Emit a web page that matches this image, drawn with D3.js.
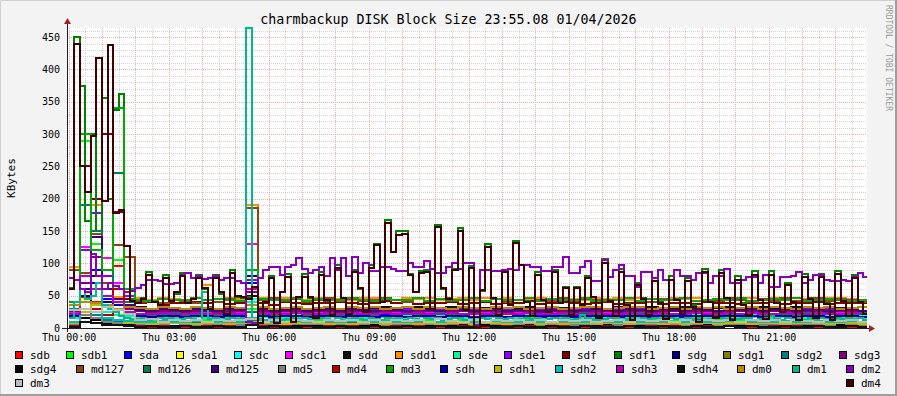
<!DOCTYPE html>
<html>
<head>
<meta charset="utf-8">
<title>charmbackup DISK Block Size</title>
<script src="https://cdn.jsdelivr.net/npm/d3@7"></script>
<style>
	body{ margin:0; background:#f3f3f3; }
	svg{ display:block; }
</style>
</head>
<body>
<div id="graph"></div>
<script>
/****************************
 * charmbackup DISK Block Size (rrdtool style graph)
 * Requirements: D3 v7
 */

// Legend order = draw order
var seriesNames = ["sdb","sdb1","sda","sda1","sdc","sdc1","sdd","sdd1","sde","sde1","sdf","sdf1","sdg","sdg1","sdg2","sdg3",
	"sdg4","md127","md126","md125","md5","md4","md3","sdh","sdh1","sdh2","sdh3","sdh4","dm0","dm1","dm2",
	"dm3","dm4"];
var seriesColors = ["#ff0000","#00ff00","#0000ff","#ffff00","#00ffff","#ff00ff","#111111","#ff8c00","#00fa9a","#8a00ff","#800000","#008000","#000080","#808000","#008080","#800080",
	"#000000","#8b4513","#008050","#400080","#808080","#bb0000","#00aa00","#0000aa","#bbbb00","#00bbbb","#bb00bb","#111111","#bb8800","#00bb88","#8800bb",
	"#bbbbbb","#400000"];

var yTicks = [0, 50, 100, 150, 200, 250, 300, 350, 400, 450];
var xTickHours = [0, 3, 6, 9, 12, 15, 18, 21];
var xTickLabels = ["Thu 00:00","Thu 03:00","Thu 06:00","Thu 09:00","Thu 12:00","Thu 15:00","Thu 18:00","Thu 21:00"];

// KBytes, each array covers the whole day (20 min steps, 10 min for the busy ones)
var sdb = [10,48,40,35,96,18,6,4,3,3,2,3, 2,3,2,2,6,3,2,3,2,2,3,2, 2,3,2,2,3,2,2,2,3,2,2,3,
	2,2,3,2,2,3,2,2,2,3,2,2, 3,2,2,2,3,2,2,3,2,2,2,3, 2,2,3,2,2,2,3,2,2,3,2,2];
var sdb1 = [20,290,130,60,105,40,14,12,10,12,11,10, 12,10,11,12,30,12,10,11,12,10,12,11, 10,12,11,10,13,12,10,11,12,10,11,12,
	11,10,12,11,10,12,11,10,12,11,10,12, 11,12,10,11,12,10,11,12,10,11,12,10, 12,11,10,12,11,10,12,11,10,12,11,10];
var sda = [18,70,90,45,40,25,20,18,19,17,18,20, 18,19,17,18,60,20,18,17,19,18,17,19, 18,17,19,18,20,17,18,19,17,18,19,18,
	17,19,18,17,18,20,18,17,19,18,17,18, 19,18,17,18,19,17,18,19,18,17,18,19, 18,17,19,18,17,18,19,17,18,19,18,17];
var sda1 = [5,45,30,15,40,8,4,3,4,3,3,4, 3,4,3,3,5,3,4,3,3,4,3,3, 4,3,3,4,3,3,4,3,3,4,3,3,
	3,4,3,3,4,3,3,4,3,3,4,3, 3,3,4,3,3,4,3,3,4,3,3,4, 3,4,3,3,4,3,3,4,3,3,4,3];
var sdc = [15,50,70,40,35,25,20,22,21,20,22,21, 20,22,21,20,45,22,21,20,22,21,20,22, 21,22,20,21,23,22,20,21,22,20,21,22,
	21,20,22,21,20,22,21,20,22,21,20,22, 21,22,20,21,22,20,21,22,20,21,22,20, 22,21,20,22,21,20,22,21,20,22,21,20];
var sdc1 = [25,125,60,108,70,30,26,24,25,27,24,26, 25,24,26,25,130,27,24,25,26,24,25,27, 24,26,25,24,27,25,26,24,25,27,24,26,
	25,24,26,27,24,25,26,24,27,25,24,26, 25,27,24,26,25,24,26,27,24,25,26,24, 27,25,24,26,25,27,24,26,25,24,27,25];
var sdd = [30,60,80,50,45,35,32,30,33,31,30,32, 31,30,32,31,50,33,30,31,32,30,31,33, 30,32,31,30,33,31,30,32,31,30,32,31,
	30,31,32,30,31,33,30,32,31,30,32,31, 30,32,31,30,33,31,30,32,31,30,31,32, 31,30,32,31,30,32,31,30,33,31,30,32];
var sdd1 = [95,120,190,60,48,50,46,44,47,45,44,46, 66,45,47,45,190,46,44,47,45,44,46,47, 45,44,46,47,45,44,46,45,47,44,45,46,
	44,46,45,47,44,45,46,44,47,45,44,46, 45,47,44,46,45,44,47,45,46,44,45,47, 44,46,45,47,44,46,45,44,47,46,45,44];
var sde = [16,40,30,25,20,18,16,15,17,16,15,17, 16,15,17,16,40,17,15,16,17,15,16,17, 15,17,16,15,17,16,15,17,16,15,17,16,
	15,16,17,15,16,17,15,16,17,15,16,17, 16,15,17,16,15,17,16,15,17,16,15,17, 16,17,15,16,17,15,16,17,15,16,17,15];
var sde1 = [30,120,178,80,60,50,28,27,29,28,30,27, 28,30,29,27,75,28,29,30,27,28,30,29, 27,29,30,28,27,30,29,28,27,30,28,29,
	28,27,30,29,28,27,30,29,27,28,30,29, 30,28,27,29,30,28,27,30,29,28,27,30, 29,28,30,27,29,28,30,27,29,30,28,27];
var sdf = [40,250,200,300,180,45,38,40,36,39,38,40, 38,40,37,39,60,38,36,40,38,37,39,38, 40,38,37,39,41,38,40,37,39,38,40,37,
	38,40,37,39,38,41,37,38,40,39,37,38, 40,37,39,38,40,37,38,39,37,40,38,39, 37,39,38,40,37,39,38,40,37,38,39,38];
var sdf1 = [62,450,375,165,300,150,355,200,337,362,110,45,
	40,46,86,42,38,82,44,52,85,40,46,82,
	60,32,82,52,25,90,48,46,48,90,12,42,
	80,10,55,84,12,48,84,46,18,86,42,22,
	97,45,24,90,60,28,97,130,42,167,118,150,
	150,84,55,88,90,32,160,60,46,92,155,30,
	96,5,58,130,46,22,88,36,135,98,42,20,
	86,44,26,90,40,64,22,63,36,80,48,18,
	106,44,20,92,37,14,70,46,22,78,40,16,
	80,45,24,77,35,12,92,42,18,90,47,14,
	80,38,22,88,45,16,88,40,26,70,42,14,
	84,46,18,84,39,14,88,43,20,82,42,24];
var sdg = [22,40,60,35,30,24,22,21,23,22,21,23, 22,21,23,22,80,23,21,22,23,21,22,23, 21,23,22,21,23,22,21,23,22,21,23,22,
	21,22,23,21,22,23,21,22,23,21,22,23, 22,21,23,22,21,23,22,21,23,22,21,23, 22,23,21,22,23,21,22,23,21,22,23,21];
var sdg1 = [6,20,15,10,8,7,6,5,6,7,6,5, 6,7,5,6,8,6,7,5,6,7,6,5, 6,5,7,6,5,6,7,5,6,5,7,6,
	5,6,7,5,6,7,5,6,5,7,6,5, 6,7,5,6,7,5,6,5,7,6,5,6, 7,5,6,7,5,6,7,6,5,7,6,5];
var sdg2 = [8,25,20,12,10,9,8,9,8,7,8,9, 8,7,9,8,12,9,8,7,9,8,7,9, 8,9,7,8,9,8,7,9,8,7,9,8,
	7,8,9,7,8,9,7,8,9,7,8,9, 8,7,9,8,7,9,8,7,9,8,7,9, 8,9,7,8,9,7,8,9,7,8,9,7];
var sdg3 = [26,70,110,60,45,30,26,25,27,26,25,27, 26,25,27,26,55,27,25,26,27,25,26,27, 25,27,26,25,27,26,25,27,26,25,27,26,
	25,26,27,25,26,27,25,26,27,25,26,27, 26,25,27,26,25,27,26,25,27,26,25,27, 26,27,25,26,27,25,26,27,25,26,27,25];
var sdg4 = [4,15,12,8,6,5,4,5,4,3,4,5, 4,3,5,4,6,5,4,3,5,4,3,5, 4,5,3,4,5,4,3,5,4,3,5,4,
	3,4,5,3,4,5,3,4,5,3,4,5, 4,3,5,4,3,5,4,3,5,4,3,5, 4,5,3,4,5,3,4,5,3,4,5,3];
var md127 = [90,85,145,70,128,110,40,42,38,44,41,39, 43,40,45,41,185,44,46,42,45,40,44,47, 42,45,41,44,47,43,40,46,42,45,41,44,
	46,42,45,40,44,47,43,41,46,42,45,43, 41,44,46,42,40,45,43,47,41,44,42,46, 43,40,45,42,46,41,44,47,42,45,43,40];
var md126 = [30,190,150,60,240,40,22,20,21,23,20,22, 21,20,22,21,25,22,20,21,23,20,22,21, 20,22,21,20,23,21,22,20,21,23,20,22,
	21,20,22,21,20,23,21,22,20,21,23,20, 22,21,20,23,21,20,22,21,23,20,21,22, 21,23,20,22,21,20,23,21,22,20,21,23];
var md125 = [28,60,140,60,45,35,28,27,29,28,27,29, 28,27,29,28,70,29,27,28,29,27,28,29, 27,29,28,27,29,28,27,29,28,27,29,28,
	27,28,29,27,28,29,27,28,29,27,28,29, 28,27,29,28,27,29,28,27,29,28,27,29, 28,29,27,28,29,27,28,29,27,28,29,27];
var md5 = [6,20,15,10,8,7,6,5,6,7,6,5, 5,6,7,5,8,6,5,7,6,5,6,7, 6,5,6,7,5,6,5,7,6,5,6,7,
	5,7,6,5,6,7,5,6,7,5,6,6, 7,5,6,6,5,7,6,5,6,7,5,6, 6,7,5,6,7,5,6,6,5,7,6,5];
var md4 = [3,40,30,20,60,10,3,2,3,2,3,2, 3,2,3,2,5,3,2,3,2,3,2,3, 2,3,2,3,2,3,2,3,2,3,2,3,
	2,3,2,3,2,3,2,2,3,2,3,2, 3,2,3,2,3,2,3,2,2,3,2,3, 2,3,2,3,2,3,2,3,2,2,3,2];
var md3 = [40,300,120,90,340,60,44,42,45,43,44,46, 43,45,44,42,90,45,43,44,46,42,45,44, 43,46,44,42,45,43,44,46,42,45,43,44,
	46,42,45,43,44,46,42,45,44,43,46,42, 44,43,46,42,45,44,43,46,42,44,45,43, 46,42,44,45,43,46,42,44,45,43,42,44];
var sdh = [18,50,70,40,35,22,18,17,19,18,17,19, 18,17,19,18,70,19,17,18,19,17,18,19, 17,19,18,17,19,18,17,19,18,17,19,18,
	17,18,19,17,18,19,17,18,19,17,18,19, 18,17,19,18,17,19,18,17,19,18,17,19, 18,19,17,18,19,17,18,19,17,18,19,17];
var sdh1 = [7,25,35,15,12,8,7,6,7,8,7,6, 7,8,6,7,9,7,8,6,7,8,7,6, 7,6,8,7,6,7,8,6,7,6,8,7,
	6,7,8,6,7,8,6,7,6,8,7,6, 7,8,6,7,8,6,7,6,8,7,6,7, 8,6,7,8,6,7,8,7,6,8,7,6];
var sdh2 = [10,30,25,15,12,11,10,9,11,10,9,11, 10,9,11,10,15,11,10,9,11,10,9,11, 10,11,9,10,11,10,9,11,10,9,11,10,
	9,10,11,9,10,11,9,10,11,9,10,11, 10,9,11,10,9,11,10,9,11,10,9,11, 10,11,9,10,11,9,10,11,9,10,11,9];
var sdh3 = [22,80,60,50,40,25,22,21,23,22,21,23, 22,21,23,22,60,23,21,22,23,21,22,23, 21,23,22,21,23,22,21,23,22,21,23,22,
	21,22,23,21,22,23,21,22,23,21,22,23, 22,21,23,22,21,23,22,21,23,22,21,23, 22,23,21,22,23,21,22,23,21,22,23,21];
var sdh4 = [2,10,8,5,4,3,2,3,2,2,3,2, 2,3,2,2,4,2,3,2,2,3,2,2, 3,2,2,3,2,2,3,2,2,3,2,2,
	2,3,2,2,3,2,2,3,2,2,3,2, 2,2,3,2,2,3,2,2,3,2,2,3, 2,3,2,2,3,2,2,3,2,2,3,2];
var dm0 = [35,40,38,36,30,33,31,30,32,31,30,32, 31,30,32,31,35,32,30,31,32,30,31,32, 30,32,31,33,30,31,32,30,33,31,30,32,
	31,30,32,31,33,30,31,32,30,31,33,32, 30,31,33,32,30,31,32,30,33,31,32,30, 31,33,30,32,31,30,33,31,32,30,31,33];
var dm1 = [16,40,60,45,50,70,35,30,25,18,15,14,
	14,15,13,14,16,14,15,13,14,15,14,13,
	55,14,15,13,14,16,14,15,464,15,14,13,
	14,15,13,14,16,14,15,13,14,15,14,13,
	15,13,14,16,14,12,15,14,13,16,14,15,
	13,15,14,12,16,14,15,13,14,16,15,13,
	14,2,15,14,13,16,14,15,13,14,16,14,
	15,13,14,16,14,15,13,14,20,15,14,13,
	14,16,15,13,14,15,13,16,14,15,14,13,
	15,14,13,16,14,15,13,14,16,15,14,13,
	14,16,15,13,14,15,18,14,13,15,14,16,
	13,15,14,16,14,13,15,14,16,14,15,13];
var dm2 = [77,75,60,55,115,80,60,70,65,60,55,58,
	62,66,74,74,72,68,68,70,82,85,78,80,
	76,78,80,75,78,77,72,70,10,8,77,90,
	95,94,82,95,98,108,92,85,90,94,80,108,
	90,108,80,110,85,100,88,88,94,94,92,88,
	88,100,94,94,103,92,85,85,94,100,92,100,
	100,5,90,90,88,88,90,92,90,97,97,94,
	94,88,88,94,94,110,85,85,94,103,72,72,
	105,79,90,97,81,81,64,87,87,77,90,74,
	74,90,81,81,74,85,85,69,80,80,92,69,
	69,74,79,79,69,82,64,64,79,79,81,87,
	69,74,82,82,74,72,72,74,72,79,85,79];
var dm3 = [28,30,25,32,28,22,12,14,10,13,11,12, 10,13,11,12,14,10,12,9,13,11,10,12, 11,13,10,12,9,13,11,12,10,14,11,10,
	12,10,13,11,12,9,13,10,12,11,13,10, 11,12,10,13,11,12,9,13,10,12,11,13, 10,12,11,13,10,12,11,9,13,11,12,10];
var dm4 = [60,440,250,210,297,418,196,438,178,182,127,42,
	38,45,82,40,35,78,42,55,80,38,45,78,
	62,30,78,55,22,85,50,48,45,64,8,40,
	77,8,56,79,10,48,79,48,15,82,43,20,
	93,47,22,87,62,25,93,128,40,163,118,144,
	145,82,56,85,87,30,156,62,45,90,150,28,
	93,2,59,126,47,20,87,35,131,97,40,18,
	82,43,25,87,38,62,20,62,35,77,48,15,
	100,42,18,87,35,12,66,45,20,72,38,14,
	74,44,22,72,33,10,87,40,16,85,46,12,
	74,36,20,82,44,14,82,38,24,66,40,12,
	79,45,16,79,37,12,83,42,18,77,40,22];

var seriesValues = [sdb, sdb1, sda, sda1, sdc, sdc1, sdd, sdd1, sde, sde1, sdf, sdf1, sdg, sdg1, sdg2, sdg3,
	sdg4, md127, md126, md125, md5, md4, md3, sdh, sdh1, sdh2, sdh3, sdh4, dm0, dm1, dm2,
	dm3, dm4];

var chart = {};

(function(){

	// Layout
	chart.width = 897;
	chart.height = 396;
	chart.plot = { left: 67, right: 867, top: 28, bottom: 328 };
	chart.font = "'DejaVu Sans Mono', monospace";
	chart.hours = [-0.05, 23.95];

	var W = chart.width, H = chart.height, p = chart.plot;

	var svg = d3.select("#graph").append("svg")
		.attr("width", W)
		.attr("height", H)
		.attr("font-family", chart.font);

	// Background and shaded frame
	svg.append("rect").attr("width", W).attr("height", H).attr("fill", "#f3f3f3");
	svg.append("path")
		.attr("d", "M0.5," + H + "V0.5H" + W)
		.attr("fill", "none").attr("stroke", "#cfcfcf").attr("stroke-width", 1);
	svg.append("path")
		.attr("d", "M" + (W - 1) + ",0V" + (H - 1) + "H0")
		.attr("fill", "none").attr("stroke", "#9e9e9e").attr("stroke-width", 2);

	// Canvas
	svg.append("rect")
		.attr("x", p.left).attr("y", p.top)
		.attr("width", p.right - p.left).attr("height", p.bottom - p.top)
		.attr("fill", "#ffffff");

	var maxValue = d3.max(seriesValues, function(s){ return d3.max(s); });
	var x = d3.scaleLinear().domain(chart.hours).range([p.left, p.right]);
	var y = d3.scaleLinear().domain([0, maxValue]).range([p.bottom, p.top]);

	// Grid
	var grid = svg.append("g")
		.attr("shape-rendering", "crispEdges")
		.attr("stroke-width", 1)
		.attr("stroke-dasharray", "1,1");

	function hLines(values, color){
		grid.append("g").attr("stroke", color).selectAll("line")
			.data(values).enter().append("line")
			.attr("x1", p.left).attr("x2", p.right)
			.attr("y1", function(d){ return Math.round(y(d)) + 0.5; })
			.attr("y2", function(d){ return Math.round(y(d)) + 0.5; });
	}
	function vLines(values, color){
		grid.append("g").attr("stroke", color).selectAll("line")
			.data(values).enter().append("line")
			.attr("y1", p.top).attr("y2", p.bottom)
			.attr("x1", function(d){ return Math.round(x(d)) + 0.5; })
			.attr("x2", function(d){ return Math.round(x(d)) + 0.5; });
	}

	hLines(d3.range(10, maxValue, 10).filter(function(v){ return v % 50 != 0; }), "#d4d4d4");
	vLines(d3.range(0.5, 24, 1), "#d4d4d4");
	hLines(d3.range(50, maxValue, 50), "#f2a9a9");
	vLines(d3.range(0, 24, 1), "#f2a9a9");

	// Series
	svg.append("clipPath").attr("id", "plotClip")
		.append("rect")
		.attr("x", p.left).attr("y", p.top - 1)
		.attr("width", p.right - p.left).attr("height", p.bottom - p.top + 3);

	var line = d3.line()
		.x(function(d){ return x(d[0]); })
		.y(function(d){ return y(d[1]); })
		.curve(d3.curveStepAfter);

	function toPoints(values){
		var step = 24 / values.length;
		var pts = values.map(function(v, i){ return [i * step, v]; });
		pts.push([24, values[values.length - 1]]);
		return pts;
	}

	svg.append("g")
		.attr("clip-path", "url(#plotClip)")
		.selectAll("path")
		.data(seriesValues).enter().append("path")
		.attr("d", function(d){ return line(toPoints(d)); })
		.attr("fill", "none")
		.attr("stroke", function(d, i){ return seriesColors[i]; })
		.attr("stroke-width", 2)
		.attr("shape-rendering", "crispEdges");

	// Axes labels
	var yAxis = d3.axisLeft(y).tickValues(yTicks).tickSize(0).tickPadding(7);
	svg.append("g")
		.attr("transform", "translate(" + p.left + ",0)")
		.attr("color", "#000")
		.call(yAxis)
		.call(function(g){ g.select(".domain").remove(); })
		.attr("font-family", chart.font).attr("font-size", 10);

	var xAxis = d3.axisBottom(x).tickValues(xTickHours).tickSize(0).tickPadding(6)
		.tickFormat(function(d, i){ return xTickLabels[i]; });
	svg.append("g")
		.attr("transform", "translate(0," + p.bottom + ")")
		.attr("color", "#000")
		.call(xAxis)
		.call(function(g){ g.select(".domain").remove(); })
		.attr("font-family", chart.font).attr("font-size", 10);

	// Axis lines with arrows
	var axis = svg.append("g").attr("shape-rendering", "crispEdges");
	axis.append("line")
		.attr("x1", p.left - 5).attr("x2", p.right + 4)
		.attr("y1", p.bottom + 0.5).attr("y2", p.bottom + 0.5)
		.attr("stroke", "#202020");
	axis.append("line")
		.attr("x1", p.left + 0.5).attr("x2", p.left + 0.5)
		.attr("y1", p.bottom + 4).attr("y2", p.top - 6)
		.attr("stroke", "#202020");
	svg.append("path")
		.attr("d", "M" + (p.right + 2) + "," + (p.bottom - 3) + "L" + (p.right + 8) + "," + (p.bottom + 0.5) + "L" + (p.right + 2) + "," + (p.bottom + 4) + "Z")
		.attr("fill", "#a52020");
	svg.append("path")
		.attr("d", "M" + (p.left - 3) + "," + (p.top - 4) + "L" + (p.left + 0.5) + "," + (p.top - 10) + "L" + (p.left + 4) + "," + (p.top - 4) + "Z")
		.attr("fill", "#a52020");

	// Title, unit, watermark
	svg.append("text")
		.attr("x", W / 2).attr("y", 24)
		.attr("text-anchor", "middle")
		.attr("font-size", 13.3)
		.text("charmbackup DISK Block Size 23:55.08 01/04/2026");

	svg.append("text")
		.attr("transform", "translate(15," + ((p.top + p.bottom) / 2) + ") rotate(-90)")
		.attr("text-anchor", "middle")
		.attr("font-size", 11)
		.text("KBytes");

	svg.append("text")
		.attr("transform", "translate(886,5) rotate(90)")
		.attr("font-size", 8)
		.attr("fill", "#9a9a9a")
		.text("RRDTOOL / TOBI OETIKER");

	// Legend, justified rows (16 / 15 / 2 entries)
	var legendLeft = 15, legendRight = 880.5;
	var rows = [seriesNames.slice(0, 16), seriesNames.slice(16, 31), seriesNames.slice(31)];
	var baselines = [358.5, 372.5, 386.5];
	var idx = 0;

	rows.forEach(function(row, r){
		var items = row.map(function(name){
			var g = svg.append("g");
			g.append("rect")
				.attr("x", 0.5).attr("y", -7)
				.attr("width", 7).attr("height", 7)
				.attr("fill", seriesColors[idx])
				.attr("stroke", "#000")
				.attr("shape-rendering", "crispEdges");
			var t = g.append("text")
				.attr("x", 15).attr("y", 0)
				.attr("font-size", 11)
				.text(name);
			idx++;
			return { g: g, w: 15 + t.node().getComputedTextLength() };
		});
		var total = d3.sum(items, function(d){ return d.w; });
		var gap = items.length > 1 ? (legendRight - legendLeft - total) / (items.length - 1) : 0;
		var cx = legendLeft;
		items.forEach(function(item){
			item.g.attr("transform", "translate(" + Math.round(cx) + "," + baselines[r] + ")");
			cx += item.w + gap;
		});
	});

})();
</script>
</body>
</html>
